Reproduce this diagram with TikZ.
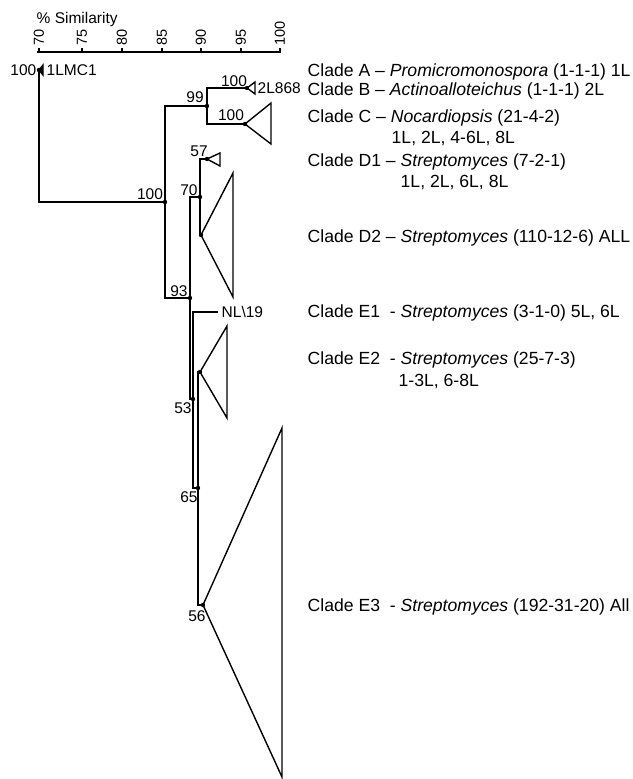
\documentclass[tikz,border=0pt]{standalone}
\usepackage{fontspec}
\setmainfont{Liberation Sans}
\begin{document}
\begin{tikzpicture}[x=1pt,y=-1pt, line width=1.4pt,
  nlab/.style={inner sep=0pt, font=\fontsize{15.5}{17}\selectfont},
  clade/.style={anchor=base west, inner sep=0pt, font=\fontsize{17.6}{20}\selectfont},
  ticklab/.style={inner sep=0pt, rotate=90, anchor=west, font=\fontsize{14.5}{16}\selectfont},
  tickmark/.style={line width=1.2pt},
  dotn/.style={fill=black}]
\fill[white] (0,0) rectangle (632,779);
\useasboundingbox (0,0) rectangle (632,779);

% axis
\node[nlab, anchor=west] (title) at (36,19) {\% Similarity};
\coordinate (ax0) at (37,52);
\coordinate (ax1) at (281,52);
\draw[line width=1.6pt] (ax0) -- (ax1);
\foreach \xx/\lab in {39/70,82/75,122/80,162/85,201/90,241/95,280/100}{
  \coordinate (tk\lab) at (\xx,52);
  \draw[tickmark] (tk\lab) -- ++(0,-4);
  \node[ticklab] (tl\lab) at (\xx,46) {\lab};
}

% coordinates of the tree
\coordinate (t1) at (39,70);
\coordinate (r) at (39,202);
\coordinate (n100) at (165,202);
\coordinate (n100t) at (165,106);
\coordinate (n100b) at (165,298);
\coordinate (n99) at (207,106);
\coordinate (n99t) at (207,88);
\coordinate (n99b) at (207,124);
\coordinate (tB) at (247,88);
\coordinate (tC) at (245,124);
\coordinate (n93) at (190,298);
\coordinate (n93t) at (190,197);
\coordinate (n93b) at (190,399);
\coordinate (n70) at (200,197);
\coordinate (n70t) at (200,159);
\coordinate (n70b) at (200,235);
\coordinate (tD1) at (207,159);
\coordinate (tD2) at (201,235);
\coordinate (n53) at (193,399);
\coordinate (n53t) at (193,312);
\coordinate (n53b) at (193,488);
\coordinate (tE1) at (218,312);
\coordinate (n65) at (198,488);
\coordinate (n65t) at (198,372);
\coordinate (n65b) at (198,605);
\coordinate (tE2) at (200,372);
\coordinate (tE3) at (203,605);

% branches
\draw (t1) -- (r) -- (n100);
\draw (n99) -- (n100t) -- (n100b) -- (n93);
\draw (tB) -- (n99t) -- (n99b) -- (tC);
\draw (n70) -- (n93t) -- (n93b) -- (n53);
\draw (tD1) -- (n70t) -- (n70b) -- (tD2);
\draw (tE1) -- (n53t) -- (n53b) -- (n65);
\draw (tE2) -- (n65t) -- (n65b) -- (tE3);

% collapsed clades
\filldraw (t1) -- ++(4,-5) -- ++(0,10) -- cycle;
\draw (tB) -- ++(8,-6) -- ++(0,12) -- cycle;
\draw (tC) -- ++(26,-21) -- ++(0,41) -- cycle;
\draw (tD1) -- ++(13,-6) -- ++(0,13) -- cycle;
\draw (tD2) -- ++(32,-62) -- ++(0,124) -- cycle;
\draw (tE2) -- ++(27,-46) -- ++(0,92) -- cycle;
\draw (tE3) -- ++(79,-177) -- ++(0,349) -- cycle;

% node dots
\foreach \p in {t1,tB,n100,n99,tC,tD1,n70,tD2,n93,n53,tE2,n65,tE3}{
  \fill[dotn] (\p) circle[radius=2.2pt];
}

% node labels
\node[nlab, anchor=east] (l1) at (37,70) {100};
\node[nlab, anchor=west] (lLMC) at (46,70) {1LMC1};
\node[nlab] (lB) at (234,81) {100};
\node[nlab, anchor=west] (l2L) at (257,88) {2L868};
\node[nlab] (l99) at (195,97) {99};
\node[nlab] (lC) at (231,115) {100};
\node[nlab] (l100) at (150,194) {100};
\node[nlab] (l57) at (199,151) {57};
\node[nlab] (l70) at (189,190) {70};
\node[nlab] (l93) at (179,291) {93};
\node[nlab, anchor=west] (lNL) at (221,312) {NL\textbackslash19};
\node[nlab] (l53) at (183,408) {53};
\node[nlab] (l65) at (189,497) {65};
\node[nlab] (l56) at (197,616) {56};

% clade labels
\node[clade] (cA) at (307,76.3) {Clade A – \textit{Promicromonospora} (1-1-1) 1L};
\node[clade] (cB) at (307,95.3) {Clade B – \textit{Actinoalloteichus} (1-1-1) 2L};
\node[clade] (cC) at (307,122.3) {Clade C – \textit{Nocardiopsis} (21-4-2)};
\node[clade] (cC2) at (391,143.3) {1L, 2L, 4-6L, 8L};
\node[clade] (cD1) at (307,166.3) {Clade D1 – \textit{Streptomyces} (7-2-1)};
\node[clade] (cD12) at (400,187.3) {1L, 2L, 6L, 8L};
\node[clade] (cD2) at (307,242.3) {Clade D2 – \textit{Streptomyces} (110-12-6) ALL};
\node[clade] (cE1) at (307,317.3) {Clade E1\ \ - \textit{Streptomyces} (3-1-0) 5L, 6L};
\node[clade] (cE2) at (307,364.3) {Clade E2\ \ - \textit{Streptomyces} (25-7-3)};
\node[clade] (cE22) at (398,386.3) {1-3L, 6-8L};
\node[clade] (cE3) at (307,611.3) {Clade E3\ \ - \textit{Streptomyces} (192-31-20) All};
\end{tikzpicture}
\end{document}
